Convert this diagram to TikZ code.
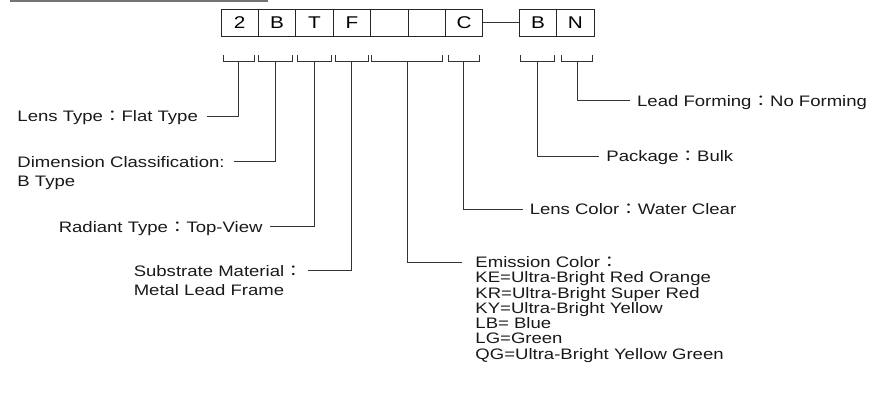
\documentclass[tikz,border=0pt]{standalone}
\usepackage{fontspec}
\setmainfont[FakeStretch=1.22]{Liberation Sans}
\newfontfamily\cjkfont[FakeStretch=1.22]{Noto Sans CJK TC}
\newcommand{\fcolon}{{\cjkfont ：}}
\begin{document}
\begin{tikzpicture}[x=1pt,y=-1pt,
  font=\fontsize{15.2}{18}\selectfont,
  line width=0.9pt,
  cell/.style={draw=black!85, minimum width=37.4pt, minimum height=27.7pt,
    inner sep=0pt, outer sep=0pt, anchor=north west, font=\fontsize{17}{19}\selectfont},
  lbl/.style={inner sep=0pt, text height=10.8pt, text depth=0pt, anchor=west, text=black!90},
  conn/.style={draw=black!80, line width=0.9pt},
  brk/.style={draw=black!80, line width=0.9pt}]
\useasboundingbox (0,0) rectangle (881,401);
\draw[black!55, line width=1.6pt] (10,0.8) -- (268,0.8);

% code cells
\node[cell] (c1) at (221,9) {2};
\node[cell] (c2) at (258.4,9) {B};
\node[cell] (c3) at (295.8,9) {T};
\node[cell] (c4) at (333.2,9) {F};
\node[cell] (c5) at (370.6,9) {};
\node[cell] (c6) at (408,9) {};
\node[cell] (c7) at (445.4,9) {C};
\node[cell] (c8) at (519.3,9) {B};
\node[cell] (c9) at (556.7,9) {N};
\draw[conn] (c7.east) -- (c8.west);

% brackets
\foreach \a/\b/\n in {223.3/254.3/1, 258.7/292.7/2, 297.3/331.7/3, 335/368.3/4,
  371.7/442.3/5, 448.3/479.3/6, 520.7/554/7, 561.7/592.3/8}{
  \draw[brk] (\a,55) -- (\a,61.7) -- (\b,61.7) -- (\b,55);
  \coordinate (k\n) at ({(\a+\b)/2},61.7);
}

% labels, left side
\node[lbl] (l1) at (17,116) {Lens Type\fcolon Flat Type};
\node[lbl] (l2) at (17,161.7) {Dimension Classification:};
\node[lbl, anchor=north west] (l2b) at ([yshift=-8pt]l2.south west) {B Type};
\node[lbl] (l3) at (58.3,226.7) {Radiant Type\fcolon Top-View};
\node[lbl] (l4) at (133.3,270.7) {Substrate Material\fcolon};
\node[lbl, anchor=north west] (l4b) at ([yshift=-8pt]l4.south west) {Metal Lead Frame};

% labels, right side
\node[lbl] (l5) at (475,262) {Emission Color\fcolon};
\node[lbl, anchor=north west] (l5a) at ([yshift=-3.6pt]l5.south west) {KE=Ultra-Bright Red Orange};
\node[lbl, anchor=north west] (l5b) at ([yshift=-3.6pt]l5a.south west) {KR=Ultra-Bright Super Red};
\node[lbl, anchor=north west] (l5c) at ([yshift=-3.6pt]l5b.south west) {KY=Ultra-Bright Yellow};
\node[lbl, anchor=north west] (l5d) at ([yshift=-3.6pt]l5c.south west) {LB= Blue};
\node[lbl, anchor=north west] (l5e) at ([yshift=-3.6pt]l5d.south west) {LG=Green};
\node[lbl, anchor=north west] (l5f) at ([yshift=-3.6pt]l5e.south west) {QG=Ultra-Bright Yellow Green};
\node[lbl] (l6) at (529.3,209.3) {Lens Color\fcolon Water Clear};
\node[lbl] (l7) at (606,156) {Package\fcolon Bulk};
\node[lbl] (l8) at (636.7,100.7) {Lead Forming\fcolon No Forming};

% connectors
\draw[conn] (k1) |- ([xshift=9pt]l1.east);
\draw[conn] (k2) |- ([xshift=9pt]l2.east);
\draw[conn] (k3) |- ([xshift=7pt]l3.east);
\draw[conn] (k4) |- ([xshift=5pt]l4.east);
\draw[conn] (k5) |- ([xshift=-13pt]l5.west);
\draw[conn] (k6) |- ([xshift=-6pt]l6.west);
\draw[conn] (k7) |- ([xshift=-7pt]l7.west);
\draw[conn] (k8) |- ([xshift=-6.7pt]l8.west);
\end{tikzpicture}
\end{document}
